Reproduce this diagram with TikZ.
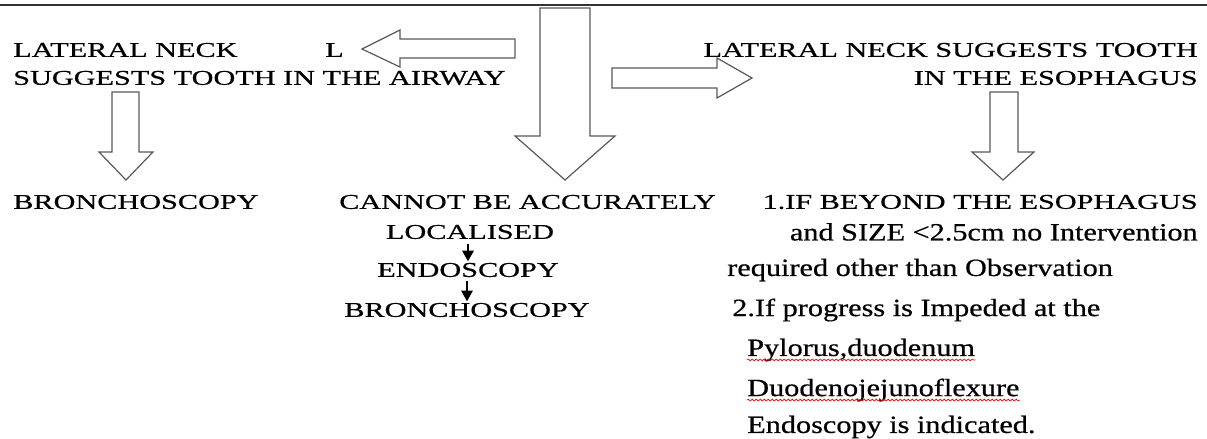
\documentclass[tikz,border=0pt]{standalone}
\usepackage{fontspec}
\setmainfont{Liberation Serif}
\newfontfamily\capsfont[FakeStretch=1.44, FakeBold=0.6]{Liberation Serif}
\newfontfamily\notefont[FakeStretch=1.22, FakeBold=0.6]{Liberation Serif}
\usetikzlibrary{positioning,arrows.meta,decorations.pathmorphing}

\tikzset{
  heading/.style={font=\capsfont\fontsize{15.75}{18}\selectfont, inner sep=0pt},
  note/.style={font=\notefont\fontsize{18.6}{21}\selectfont, inner sep=0pt},
  blockarrow/.style={draw=black!65, line width=0.9pt, fill=white, line join=miter},
  smallarrow/.style={-{Triangle[length=8pt,width=8.5pt]}, line width=1.4pt},
  spellmark/.style={red, line width=0.5pt, decorate,
    decoration={snake, amplitude=0.7pt, segment length=3pt}}
}

\begin{document}
\begin{tikzpicture}[x=0.75pt, y=-0.75pt]
    \useasboundingbox (0,0) rectangle (1207,439);

    % rule across the top
    \draw [line width=1.5pt, black!80] (0,5) -- (1207,5);

    % block arrows
    \draw [blockarrow] (540,8) -- (590,8) -- (590,136) -- (615,136) -- (565,180)
        -- (515,136) -- (540,136) -- cycle;
    \draw [blockarrow] (515,39) -- (400,39) -- (400,30) -- (362,49) -- (400,67)
        -- (400,58) -- (515,58) -- cycle;
    \draw [blockarrow] (612,68) -- (717,68) -- (717,58) -- (752,78) -- (717,98)
        -- (717,88) -- (612,88) -- cycle;
    \draw [blockarrow] (112,92) -- (139,92) -- (139,152) -- (153,152) -- (126,180)
        -- (99,152) -- (112,152) -- cycle;
    \draw [blockarrow] (990,92) -- (1018,92) -- (1018,152) -- (1034,152) -- (1003,180)
        -- (972,152) -- (990,152) -- cycle;

    % airway branch
    \node[heading, anchor=west] (neckL) at (13,50) {LATERAL NECK};
    \node[heading, anchor=west] (letterL) at (325,50) {L};
    \node[heading, anchor=west] (airway) at (13,78) {SUGGESTS TOOTH IN THE AIRWAY};
    \node[heading, anchor=west] (bronchoL) at (13,202) {BRONCHOSCOPY};

    % middle branch
    \node[heading, anchor=west] (cannot) at (339,202) {CANNOT BE ACCURATELY};
    \node[heading] (local) at (470,232) {LOCALISED};
    \node[heading] (endo) at (468,270) {ENDOSCOPY};
    \node[heading] (bronchoM) at (467,310) {BRONCHOSCOPY};
    \draw [smallarrow] (endo.north |- local.south) ++(0,5) -- ([yshift=1pt]endo.north);
    \draw [smallarrow] (bronchoM.north |- endo.south) ++(0,4) -- ([yshift=1pt]bronchoM.north);

    % esophagus branch
    \node[heading, anchor=east] (neckR) at (1198,50) {LATERAL NECK SUGGESTS TOOTH};
    \node[heading, anchor=east] (esoph) at (1198,78) {IN THE ESOPHAGUS};
    \node[heading, anchor=east] (beyond) at (1198,202) {1.IF BEYOND THE ESOPHAGUS};
    \node[note, anchor=east] (size) at (1198,232) {and SIZE <2.5cm no Intervention};
    \node[note, anchor=west] (observe) at (727,270) {required other than Observation};
    \node[note, anchor=west] (impede) at (732,310) {2.If progress is Impeded at the};
    \node[note, anchor=west] (pylorus) at (747,350) {Pylorus,duodenum};
    \node[note, anchor=west] (flexure) at (747,390) {Duodenojejunoflexure};
    \node[note, anchor=west] (indicated) at (747,427) {Endoscopy is indicated.};

    % spell-check marks
    \draw [spellmark] ([yshift=-3pt]pylorus.base west) -- ([yshift=-3pt]pylorus.base east);
    \draw [spellmark] ([yshift=-3pt]flexure.base west) -- ([yshift=-3pt]flexure.base east);
\end{tikzpicture}
\end{document}
